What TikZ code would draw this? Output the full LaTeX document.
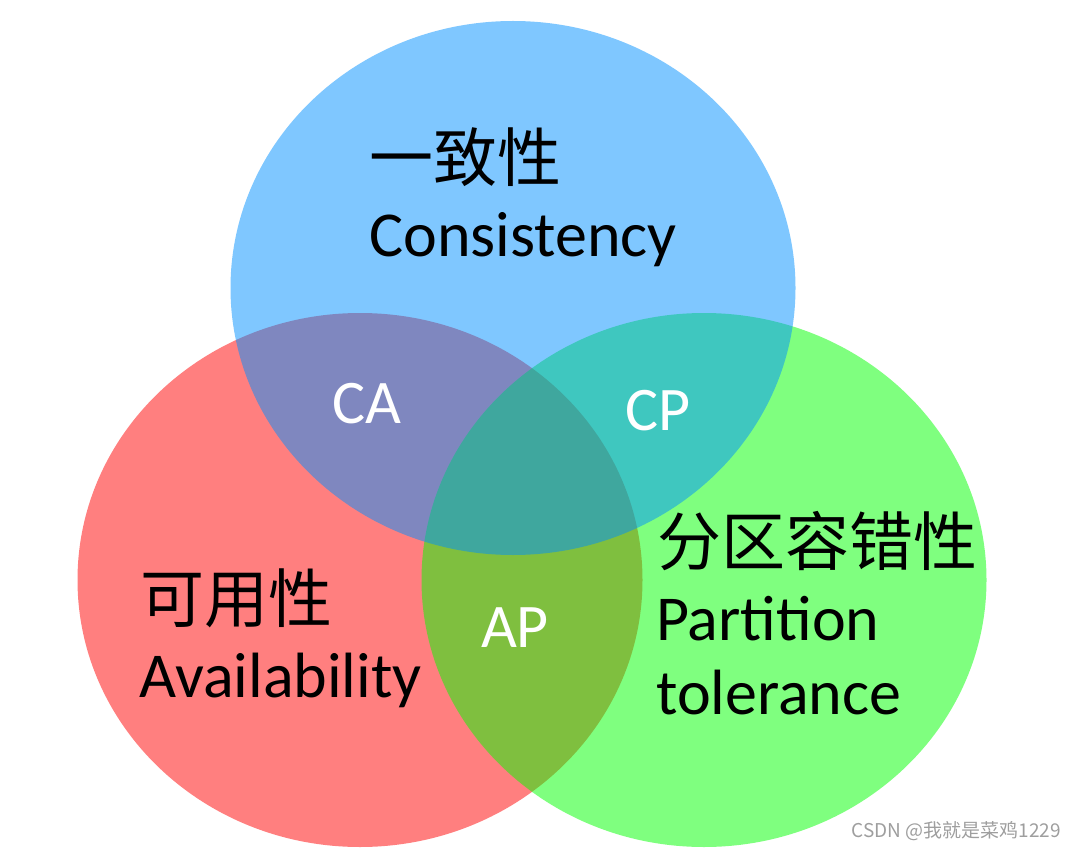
\documentclass[tikz,border=0pt]{standalone}
\usepackage{fontspec}
\setmainfont{Carlito}
\newfontfamily\cjk{Noto Sans CJK SC}
\usetikzlibrary{shapes.geometric}
\definecolor{cblue}{RGB}{0,144,255}
\definecolor{cred}{RGB}{255,0,0}
\definecolor{cgreen}{RGB}{0,255,0}
\tikzset{
  setdisc/.style = {ellipse, fill opacity=0.5, inner sep=0pt,
                    minimum width=565pt, minimum height=534pt},
  big/.style     = {anchor=base west, inner sep=0pt,
                    font=\fontsize{64}{64}\selectfont},
  bigcjk/.style  = {anchor=base west, inner sep=0pt,
                    font=\fontsize{64}{64}\selectfont\cjk},
  pair/.style    = {anchor=base, inner sep=0pt, text=white,
                    font=\fontsize{62}{62}\selectfont},
  note/.style    = {anchor=base east, inner sep=0pt, text=black!38,
                    font=\fontsize{19}{19}\selectfont\cjk},
}
\begin{document}
\begin{tikzpicture}[x=1pt,y=-1pt]
\useasboundingbox (0,0) rectangle (1076,850);

% the three sets
\node[setdisc, fill=cred]   (avail) at (360,580) {};
\node[setdisc, fill=cgreen] (part)  at (704,580) {};
\node[setdisc, fill=cblue]  (cons)  at (513,288) {};

% set labels
\node[bigcjk] (consZh) at (369,182) {一致性};
\node[big]    (consEn) at (369,257) {Consistency};
\node[bigcjk] (availZh) at (140,622) {可用性};
\node[big]    (availEn) at (139,697) {Availability};
\node[bigcjk] (partZh) at (657,565) {分区容错性};
\node[big]    (partEn) at (656,640) {Partition};
\node[big]    (partEn2) at (656,714) {tolerance};

% overlaps
\node[pair] (ca) at (367,423) {CA};
\node[pair] (cp) at (658,430) {CP};
\node[pair] (ap) at (515,647) {AP};

\node[note] (mark) at (1061,837) {CSDN @我就是菜鸡1229};
\end{tikzpicture}
\end{document}
